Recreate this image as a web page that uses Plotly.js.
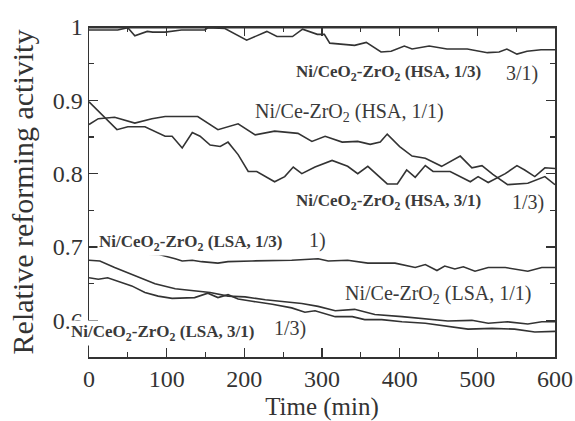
<!DOCTYPE html>
<html>
<head>
<meta charset="utf-8">
<script src="https://cdn.plot.ly/plotly-3.0.1.min.js"></script>
<style>html,body{margin:0;padding:0;background:#fff;}#chart{width:575px;height:421px;}</style>
</head>
<body>
<div id="chart"></div>
<script>
// HSA series
const hsa13_t = [0,37,50,59,75,82,98,119,149,153,175,203,229,242,262,275,294,303,310,342,357,376,389,406,416,438,461,487,513,528,538,551,564,582,600];
const hsa13_v = [0.996,0.996,0.999,0.988,0.994,0.993,0.993,0.996,0.996,0.999,0.998,0.982,0.994,0.987,0.987,0.997,0.990,0.990,0.978,0.975,0.979,0.966,0.967,0.974,0.970,0.974,0.970,0.970,0.965,0.966,0.970,0.963,0.967,0.969,0.969];

const hsa31_t = [0,100,200,300,400,500,600];
const hsa31_v = [0.999,0.999,0.999,0.999,0.999,0.999,0.999];

const hsa11a_t = [0,36,50,72,98,107,120,133,143,156,169,179,192,205,216,239,252,263,274,291,313,333,346,359,384,397,409,420,433,443,465,491,501,514,536,551,561,574,587,600];
const hsa11a_v = [0.898,0.860,0.864,0.864,0.851,0.851,0.835,0.856,0.851,0.839,0.837,0.843,0.826,0.803,0.803,0.789,0.796,0.809,0.800,0.809,0.818,0.810,0.800,0.810,0.786,0.786,0.805,0.795,0.811,0.803,0.803,0.789,0.796,0.788,0.800,0.811,0.805,0.796,0.808,0.807];

const hsa11b_t = [0,12,33,59,81,98,140,166,192,214,239,269,287,304,326,346,362,375,384,400,416,433,454,478,493,506,520,539,565,587,600];
const hsa11b_v = [0.867,0.875,0.877,0.869,0.875,0.878,0.878,0.860,0.868,0.853,0.858,0.855,0.844,0.851,0.843,0.844,0.840,0.843,0.854,0.837,0.824,0.821,0.810,0.824,0.808,0.811,0.799,0.785,0.787,0.796,0.785];

// LSA series
const lsa13_t = [50,89,111,120,133,145,166,179,210,236,261,295,308,333,359,394,420,433,448,458,471,482,497,514,536,565,583,600];
const lsa13_v = [0.691,0.690,0.684,0.681,0.682,0.680,0.678,0.680,0.681,0.681,0.682,0.684,0.681,0.682,0.678,0.678,0.672,0.676,0.668,0.674,0.670,0.673,0.667,0.672,0.672,0.667,0.672,0.672];

const lsaU_t = [0,14,33,50,68,85,111,136,156,179,201,227,252,274,295,317,342,368,403,433,462,493,514,539,565,583,600];
const lsaU_v = [0.682,0.681,0.672,0.665,0.658,0.650,0.643,0.640,0.638,0.633,0.632,0.628,0.625,0.623,0.619,0.613,0.615,0.608,0.605,0.602,0.599,0.600,0.596,0.598,0.595,0.598,0.598];

const lsaL_t = [0,12,24,37,55,72,89,107,124,136,153,166,179,192,210,236,261,278,291,317,339,355,377,403,433,462,488,519,548,574,600];
const lsaL_v = [0.658,0.656,0.658,0.653,0.647,0.638,0.633,0.630,0.631,0.631,0.637,0.631,0.635,0.629,0.626,0.622,0.617,0.611,0.613,0.605,0.605,0.601,0.601,0.598,0.596,0.592,0.588,0.589,0.588,0.584,0.585];

// labels
const labelText = [
  '<b>Ni/CeO<sub>2</sub>-ZrO<sub>2</sub> (HSA, 1/3)</b>', '3/1)',
  'Ni/Ce-ZrO<sub>2</sub> (HSA, 1/1)',
  '<b>Ni/CeO<sub>2</sub>-ZrO<sub>2</sub> (HSA, 3/1)</b>', '1/3)',
  '<b>Ni/CeO<sub>2</sub>-ZrO<sub>2</sub> (LSA, 1/3)</b>', '1)',
  'Ni/Ce-ZrO<sub>2</sub> (LSA, 1/1)',
  '<b>Ni/CeO<sub>2</sub>-ZrO<sub>2</sub> (LSA, 3/1)</b>', '1/3)'
];
const labelX = [385, 558, 335, 385, 565, 131, 294, 449, 95, 259];
const labelY = [0.937, 0.937, 0.884, 0.761, 0.761, 0.705, 0.709, 0.635, 0.583, 0.589];

const lineStyle = {color: '#333333', width: 1.6};
const series = [
  [hsa31_t, hsa31_v], [hsa13_t, hsa13_v], [hsa11a_t, hsa11a_v], [hsa11b_t, hsa11b_v],
  [lsa13_t, lsa13_v], [lsaU_t, lsaU_v], [lsaL_t, lsaL_v]
];
const traces = series.map(s => ({x: s[0], y: s[1], type: 'scatter', mode: 'lines', line: lineStyle, showlegend: false, hoverinfo: 'skip'}));

const annotations = labelText.map((t, i) => {
  const bold = t.indexOf('<b>') === 0;
  const a = {
    x: labelX[i], y: labelY[i], xref: 'x', yref: 'y', text: t, showarrow: false,
    font: {family: 'Liberation Serif, Times New Roman, serif', size: bold ? 17 : 20, color: '#3a3a3a'}
  };
  if (i === 5 || i === 8) { a.bgcolor = '#ffffff'; a.borderpad = 1; }
  return a;
});

const axisCommon = {
  showline: true, linecolor: '#333333', linewidth: 1.5, mirror: 'ticks',
  ticks: 'inside', ticklen: 9, tickwidth: 1.3, tickcolor: '#333333',
  showgrid: false, zeroline: false,
  tickfont: {family: 'Liberation Serif, Times New Roman, serif', size: 24, color: '#333333'}
};

const layout = {
  width: 575, height: 421,
  margin: {l: 89, r: 20, t: 27, b: 64},
  paper_bgcolor: '#ffffff', plot_bgcolor: '#ffffff',
  showlegend: false,
  xaxis: Object.assign({}, axisCommon, {
    range: [0, 600], tick0: 0, dtick: 100,
    minor: {dtick: 50, ticks: 'inside', ticklen: 5, tickcolor: '#333333', tickwidth: 1.2},
    title: {text: 'Time (min)', standoff: 9, font: {family: 'Liberation Serif, Times New Roman, serif', size: 25, color: '#333333'}}
  }),
  yaxis: Object.assign({}, axisCommon, {
    range: [0.55, 1.0], tick0: 0.6, dtick: 0.1, tickformat: '.1~f',
    minor: {dtick: 0.05, ticks: 'inside', ticklen: 5, tickcolor: '#333333', tickwidth: 1.2},
    title: {text: 'Relative reforming activity', standoff: 10, font: {family: 'Liberation Serif, Times New Roman, serif', size: 30, color: '#333333'}}
  }),
  annotations: annotations
};

Plotly.newPlot('chart', traces, layout, {displayModeBar: false, staticPlot: true});
</script>
</body>
</html>
